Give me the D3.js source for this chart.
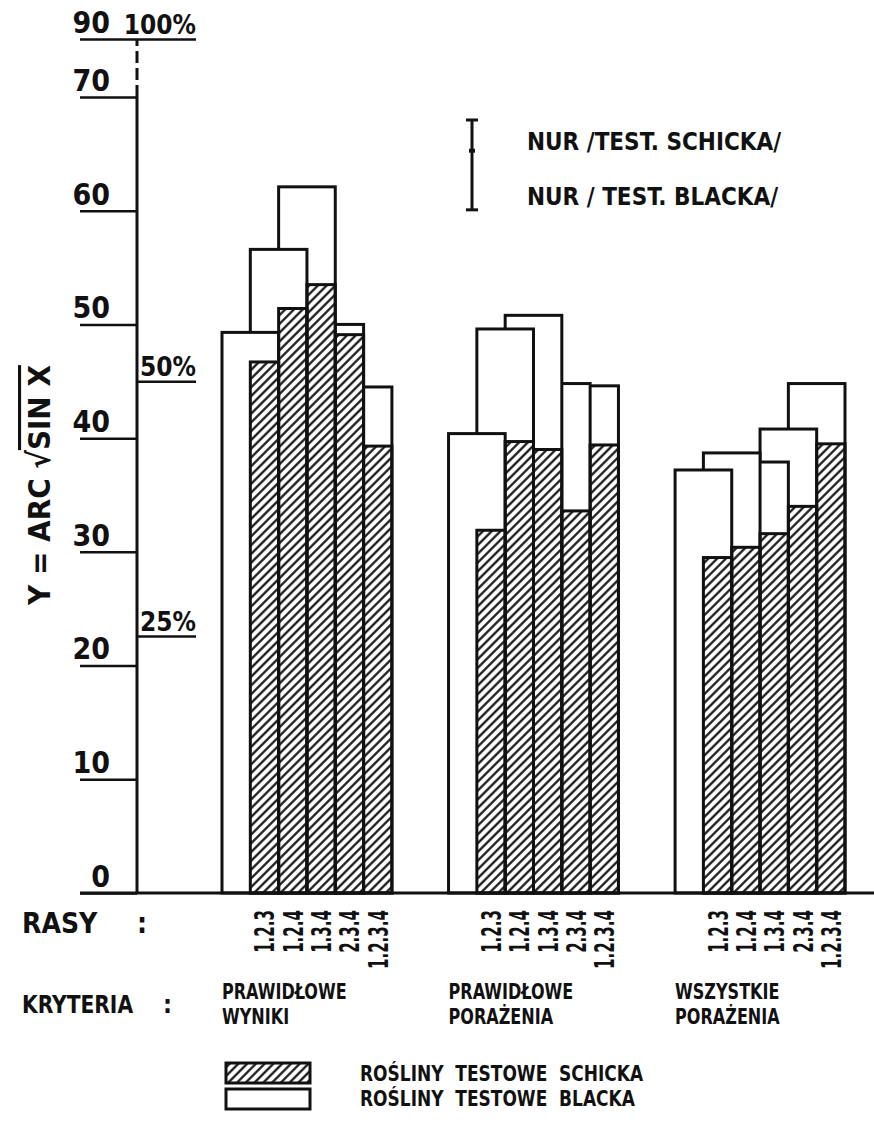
<!DOCTYPE html>
<html>
<head>
<meta charset="utf-8">
<script src="https://cdn.jsdelivr.net/npm/d3@7"></script>
<style>
  body { margin: 0; background: #fff; }
  text { font-family: "Liberation Sans Narrow", "DejaVu Sans Condensed", sans-serif; font-weight: bold; fill: #111; }
</style>
</head>
<body>
<svg id="chart"></svg>
<script>
// data (y = arc sin sqrt x, degrees)
const groupLabels = [["PRAWIDŁOWE", "WYNIKI"], ["PRAWIDŁOWE", "PORAŻENIA"], ["WSZYSTKIE", "PORAŻENIA"]]
const races = ["1.2.3", "1.2.4", "1.3.4", "2.3.4", "1.2.3.4"]
const blacka = [
    [49.3, 56.6, 62.1, 50.0, 44.5],
    [40.4, 49.6, 50.8, 44.8, 44.6],
    [37.2, 38.7, 37.9, 40.8, 44.8]]
const schicka = [
    [46.7, 51.4, 53.5, 49.1, 39.3],
    [31.9, 39.7, 39.0, 33.6, 39.4],
    [29.5, 30.4, 31.6, 34.0, 39.5]]
const yTicks = [0, 10, 20, 30, 40, 50, 60, 70, 90]
const pctValues = [22.6, 45, 90]
const pctLabels = ["25%", "50%", "100%"]
const nurLabels = ["NUR /TEST. SCHICKA/", "NUR / TEST. BLACKA/"]
const nurValues = [2.7, 5.2]    // length of the two NUR segments, in y units
const legendLabels = ["ROŚLINY  TESTOWE  SCHICKA", "ROŚLINY  TESTOWE  BLACKA"]

let svg = d3.select("#chart").attr("width", 874).attr("height", 1145)

// text squeezed sideways, like the hand lettering of the original
function narrowText(parent, x, y, str, size, squeeze) {
    return parent.append("text")
        .attr("transform", "translate(" + x + "," + y + ") scale(" + squeeze + ",1)")
        .style("font-size", size + "px")
        .style("white-space", "pre")
        .text(str)
}

// hatching for the Schick bars
svg.append("defs").append("pattern")
    .attr("id", "hatch")
    .attr("patternUnits", "userSpaceOnUse")
    .attr("width", 6.2).attr("height", 6.2)
    .attr("patternTransform", "rotate(45)")
    .append("line")
    .attr("x1", 3.1).attr("y1", 0).attr("x2", 3.1).attr("y2", 6.2)
    .attr("stroke", "#111").attr("stroke-width", 2.2)

// axis breaks between 70 and 90
let y = d3.scaleLinear().domain([0, 70, 90]).range([893, 97, 39])
let gx = d3.scaleBand().domain(d3.range(3)).range([222, 845]).paddingInner(0.25)
let sx = d3.scaleBand().domain(d3.range(6)).range([0, gx.bandwidth()])
let axisX = 137

// left axis: ticks with label above the tick line
let left = svg.append("g")
    .attr("transform", "translate(" + axisX + ",0)")
    .call(d3.axisLeft(y).tickValues(yTicks).tickSize(57).tickFormat(d3.format("d")))
left.select(".domain").remove()
left.selectAll(".tick line").attr("stroke", "#111").attr("stroke-width", 2.5)
left.selectAll(".tick text")
    .attr("x", -27).attr("dy", "-0.22em")
    .style("font-size", "30px").attr("fill", "#111")

// percentage scale on the right side of the axis
let right = svg.append("g")
    .attr("transform", "translate(" + axisX + ",0)")
    .call(d3.axisRight(y).tickValues(pctValues).tickSize(59).tickFormat((d, i) => pctLabels[i]))
right.select(".domain").remove()
right.selectAll(".tick line").attr("stroke", "#111").attr("stroke-width", 2.5)
right.selectAll(".tick text")
    .attr("x", 59).attr("dy", "-0.22em").attr("text-anchor", "end")
    .style("font-size", "26px").attr("fill", "#111")

svg.append("line")
    .attr("x1", axisX).attr("x2", axisX).attr("y1", y(0)).attr("y2", y(70))
    .attr("stroke", "#111").attr("stroke-width", 3)
svg.append("line")
    .attr("x1", axisX).attr("x2", axisX).attr("y1", y(70)).attr("y2", y(90))
    .attr("stroke", "#111").attr("stroke-width", 3).attr("stroke-dasharray", "12,5")

// bars: Black bars are two slots wide, earlier ones in front
for (let g = 0; g < 3; g++) {
    let grp = svg.append("g").attr("transform", "translate(" + gx(g) + ",0)")
    let idx = d3.range(5).reverse()
    grp.selectAll(".blacka").data(idx).join("rect")
        .attr("x", i => sx(i))
        .attr("y", i => y(blacka[g][i]))
        .attr("width", 2 * sx.bandwidth())
        .attr("height", i => y(0) - y(blacka[g][i]))
        .attr("fill", "#fff").attr("stroke", "#111").attr("stroke-width", 3)
    grp.selectAll(".schicka").data(d3.range(5)).join("rect")
        .attr("x", i => sx(i + 1))
        .attr("y", i => y(schicka[g][i]))
        .attr("width", sx.bandwidth())
        .attr("height", i => y(0) - y(schicka[g][i]))
        .attr("fill", "url(#hatch)").attr("stroke", "#111").attr("stroke-width", 3)

    // race labels, rotated and squeezed along the text
    grp.selectAll(".race").data(races).join("text")
        .attr("transform", (d, i) => "translate(" + (sx(i + 1) + sx.bandwidth() / 2 + 10) + ",910) rotate(-90) scale(0.62,1)")
        .attr("text-anchor", "end")
        .style("font-size", "27px")
        .text(d => d)

    // criterion label
    narrowText(grp, 0, 999, groupLabels[g][0], 21, 0.85)
    narrowText(grp, 0, 1024, groupLabels[g][1], 21, 0.85)
}

// baseline
svg.append("line")
    .attr("x1", 80).attr("x2", 874).attr("y1", y(0)).attr("y2", y(0))
    .attr("stroke", "#111").attr("stroke-width", 3)

// y title
let title = svg.append("text")
    .attr("transform", "translate(50,485) rotate(-90)")
    .attr("text-anchor", "middle")
    .style("font-size", "31px")
title.append("tspan").text("Y = ARC √")
title.append("tspan").style("text-decoration", "overline").text("SIN X")

// NUR legend
let nx = 472, ny = 120
let nurMid = ny + (y(0) - y(nurValues[0]))
let nurBottom = nurMid + (y(0) - y(nurValues[1]))
svg.append("line").attr("x1", nx).attr("x2", nx).attr("y1", ny).attr("y2", nurBottom)
    .attr("stroke", "#111").attr("stroke-width", 3)
;[ny, nurBottom].forEach(v => {
    svg.append("line").attr("x1", nx - 6).attr("x2", nx + 6).attr("y1", v).attr("y2", v)
        .attr("stroke", "#111").attr("stroke-width", 3)
})
svg.append("line").attr("x1", nx - 3).attr("x2", nx + 3).attr("y1", nurMid).attr("y2", nurMid)
    .attr("stroke", "#111").attr("stroke-width", 4)
svg.selectAll(".nur").data(nurLabels).join("text")
    .attr("x", 527).attr("y", (d, i) => i === 0 ? 150 : 205)
    .style("font-size", "24px")
    .text(d => d)

// bottom row labels
svg.append("text").attr("x", 22).attr("y", 933).style("font-size", "28px").text("RASY")
svg.append("text").attr("x", 137).attr("y", 933).style("font-size", "28px").text(":")
narrowText(svg, 22, 1013, "KRYTERIA", 25, 0.9)
svg.append("text").attr("x", 163).attr("y", 1013).style("font-size", "25px").text(":")

// legend
let lx = 226
svg.append("rect").attr("x", lx).attr("y", 1063).attr("width", 84).attr("height", 20)
    .attr("fill", "url(#hatch)").attr("stroke", "#111").attr("stroke-width", 3)
svg.append("rect").attr("x", lx).attr("y", 1089).attr("width", 84).attr("height", 20)
    .attr("fill", "#fff").attr("stroke", "#111").attr("stroke-width", 3)
legendLabels.forEach((d, i) => narrowText(svg, 360, 1081 + i * 25, d, 22, 0.86))
</script>
</body>
</html>
